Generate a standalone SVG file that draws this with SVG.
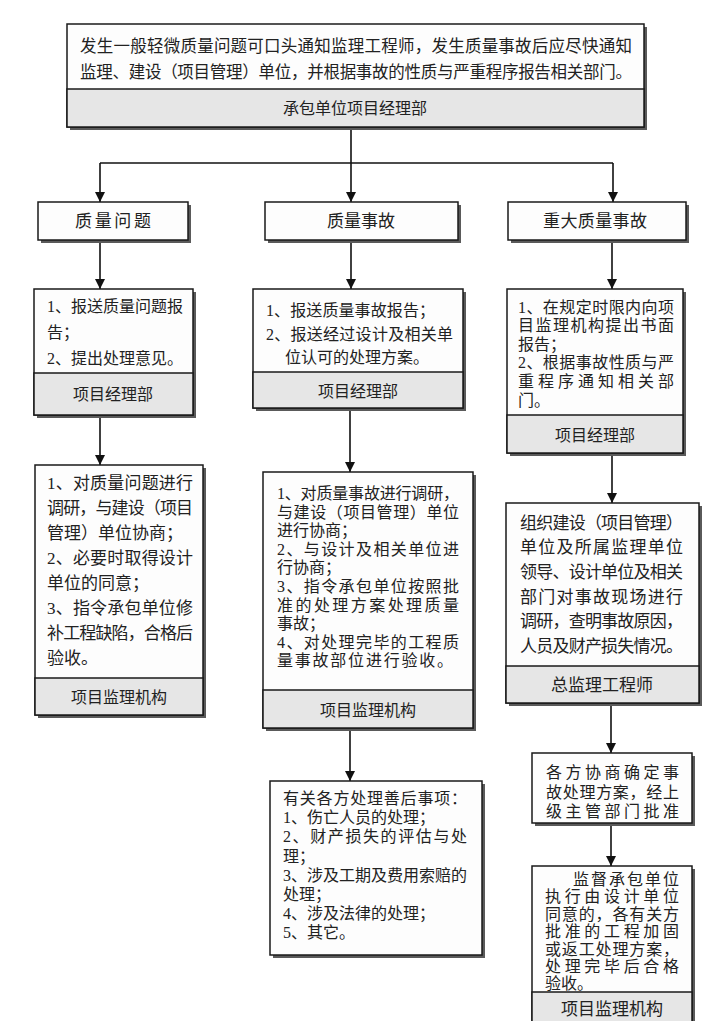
<svg xmlns="http://www.w3.org/2000/svg" width="720" height="1021" viewBox="0 0 720 1021">
<style>
.bg{fill:#ffffff}
.sh{fill:#5a5a5a}
.b{fill:#fdfdfd;stroke:#1a1a1a;stroke-width:1.5}
.band{fill:#e6e6e6;stroke:#1a1a1a;stroke-width:1.5}
.t{font-family:"Liberation Serif","Noto Sans CJK SC",serif;font-size:16px;fill:#222}
.t17{font-size:17px}
.c{text-anchor:middle}
.ln{stroke:#111;stroke-width:1.6;fill:none}
</style>
<defs>
<marker id="ah" viewBox="0 0 10 10" refX="10" refY="5" markerWidth="10" markerHeight="10" markerUnits="userSpaceOnUse" orient="auto">
<path d="M0,0 L10,5 L0,10 z" fill="#111"/>
</marker>
</defs>
<rect class="bg" x="0" y="0" width="720" height="1021"/>

<g id="connectors">
<path class="ln" d="M351,127 V202" marker-end="url(#ah)"/>
<path class="ln" d="M100,163 H613"/>
<path class="ln" d="M100,163 V202" marker-end="url(#ah)"/>
<path class="ln" d="M613,163 V202" marker-end="url(#ah)"/>
<path class="ln" d="M100,240 V289" marker-end="url(#ah)"/>
<path class="ln" d="M351,240 V289" marker-end="url(#ah)"/>
<path class="ln" d="M612,240 V289" marker-end="url(#ah)"/>
<path class="ln" d="M100,415 V465" marker-end="url(#ah)"/>
<path class="ln" d="M350,408 V472" marker-end="url(#ah)"/>
<path class="ln" d="M612,453 V503" marker-end="url(#ah)"/>
<path class="ln" d="M350,728 V781" marker-end="url(#ah)"/>
<path class="ln" d="M611,703 V753" marker-end="url(#ah)"/>
<path class="ln" d="M611,823 V866" marker-end="url(#ah)"/>
</g>

<g id="top">
<rect class="sh" x="70" y="27" width="577" height="103"/>
<rect class="b" x="67" y="24" width="577" height="103"/>
<rect class="band" x="67" y="89" width="577" height="38"/>
<text class="t" x="80" y="52" textLength="552" style="font-size:16.5px">发生一般轻微质量问题可口头通知监理工程师，发生质量事故后应尽快通知</text>
<text class="t" x="80" y="78" textLength="552" style="font-size:16.5px">监理、建设（项目管理）单位，并根据事故的性质与严重程序报告相关部门。</text>
<text class="t c" x="355" y="114">承包单位项目经理部</text>
</g>

<g id="q-problem">
<rect class="sh" x="41" y="205" width="150" height="38"/>
<rect class="b" x="38" y="202" width="150" height="38"/>
<text class="t t17 c" x="113" y="227" textLength="76">质量问题</text>
</g>
<g id="q-accident">
<rect class="sh" x="268" y="205" width="193" height="38"/>
<rect class="b" x="265" y="202" width="193" height="38"/>
<text class="t t17 c" x="361" y="227" textLength="68">质量事故</text>
</g>
<g id="q-major">
<rect class="sh" x="511" y="205" width="178" height="38"/>
<rect class="b" x="508" y="202" width="178" height="38"/>
<text class="t t17 c" x="595" y="227" textLength="104">重大质量事故</text>
</g>

<g id="l3">
<rect class="sh" x="37" y="292" width="159" height="126"/>
<rect class="b" x="34" y="289" width="159" height="126"/>
<rect class="band" x="34" y="373" width="159" height="42"/>
<text class="t" x="47" y="312" textLength="136">1、报送质量问题报</text>
<text class="t" x="47" y="338">告；</text>
<text class="t" x="47" y="364" textLength="136">2、提出处理意见。</text>
<text class="t c" x="113" y="400">项目经理部</text>
</g>
<g id="m3">
<rect class="sh" x="256" y="292" width="210" height="119"/>
<rect class="b" x="253" y="289" width="210" height="119"/>
<rect class="band" x="253" y="372" width="210" height="36"/>
<text class="t" x="266" y="316" textLength="169">1、报送质量事故报告；</text>
<text class="t" x="266" y="340" textLength="187">2、报送经过设计及相关单</text>
<text class="t" x="285" y="363" textLength="144">位认可的处理方案。</text>
<text class="t c" x="358" y="397">项目经理部</text>
</g>
<g id="r3">
<rect class="sh" x="510" y="292" width="176" height="164"/>
<rect class="b" x="507" y="289" width="176" height="164"/>
<rect class="band" x="507" y="415" width="176" height="38"/>
<text class="t" x="518" y="313" textLength="156">1、在规定时限内向项</text>
<text class="t" x="518" y="331" textLength="156">目监理机构提出书面</text>
<text class="t" x="518" y="350">报告；</text>
<text class="t" x="518" y="368" textLength="156">2、根据事故性质与严</text>
<text class="t" x="518" y="387" textLength="156">重程序通知相关部</text>
<text class="t" x="518" y="406">门。</text>
<text class="t c" x="595" y="441">项目经理部</text>
</g>

<g id="l4">
<rect class="sh" x="38" y="468" width="168" height="250"/>
<rect class="b" x="35" y="465" width="168" height="250"/>
<rect class="band" x="35" y="678" width="168" height="37"/>
<text class="t t17" x="47" y="489" textLength="146">1、对质量问题进行</text>
<text class="t t17" x="47" y="514" textLength="146">调研，与建设（项目</text>
<text class="t t17" x="47" y="539">管理）单位协商；</text>
<text class="t t17" x="47" y="564" textLength="146">2、必要时取得设计</text>
<text class="t t17" x="47" y="589">单位的同意；</text>
<text class="t t17" x="47" y="614" textLength="146">3、指令承包单位修</text>
<text class="t t17" x="47" y="639" textLength="146">补工程缺陷，合格后</text>
<text class="t t17" x="47" y="664">验收。</text>
<text class="t c" x="119" y="703">项目监理机构</text>
</g>
<g id="m4">
<rect class="sh" x="266" y="475" width="210" height="256"/>
<rect class="b" x="263" y="472" width="210" height="256"/>
<rect class="band" x="263" y="690" width="210" height="38"/>
<text class="t" x="277" y="499" textLength="182">1、对质量事故进行调研，</text>
<text class="t" x="277" y="517.5" textLength="182">与建设（项目管理）单位</text>
<text class="t" x="277" y="536">进行协商；</text>
<text class="t" x="277" y="554.5" textLength="182">2、与设计及相关单位进</text>
<text class="t" x="277" y="573">行协商；</text>
<text class="t" x="277" y="592" textLength="182">3、指令承包单位按照批</text>
<text class="t" x="277" y="610.5" textLength="182">准的处理方案处理质量</text>
<text class="t" x="277" y="629">事故；</text>
<text class="t" x="277" y="647.5" textLength="182">4、对处理完毕的工程质</text>
<text class="t" x="277" y="666" textLength="176">量事故部位进行验收。</text>
<text class="t c" x="368" y="716">项目监理机构</text>
</g>
<g id="r4">
<rect class="sh" x="509" y="506" width="193" height="200"/>
<rect class="b" x="506" y="503" width="193" height="200"/>
<rect class="band" x="506" y="666" width="193" height="37"/>
<text class="t t17" x="520" y="529" textLength="163">组织建设（项目管理）</text>
<text class="t t17" x="520" y="553" textLength="163">单位及所属监理单位</text>
<text class="t t17" x="520" y="578" textLength="163">领导、设计单位及相关</text>
<text class="t t17" x="520" y="603" textLength="163">部门对事故现场进行</text>
<text class="t t17" x="520" y="627" textLength="163">调研，查明事故原因，</text>
<text class="t t17" x="520" y="652" textLength="163">人员及财产损失情况。</text>
<text class="t t17 c" x="602" y="691">总监理工程师</text>
</g>

<g id="m5">
<rect class="sh" x="273" y="784" width="212" height="174"/>
<rect class="b" x="270" y="781" width="212" height="174"/>
<text class="t" x="283" y="804" textLength="184">有关各方处理善后事项：</text>
<text class="t" x="283" y="823">1、伤亡人员的处理；</text>
<text class="t" x="283" y="842" textLength="184">2、财产损失的评估与处</text>
<text class="t" x="283" y="861.5">理；</text>
<text class="t" x="283" y="881" textLength="184">3、涉及工期及费用索赔的</text>
<text class="t" x="283" y="900">处理；</text>
<text class="t" x="283" y="919">4、涉及法律的处理；</text>
<text class="t" x="283" y="938">5、其它。</text>
</g>
<g id="r5">
<rect class="sh" x="535" y="756" width="160" height="70"/>
<rect class="b" x="532" y="753" width="160" height="70"/>
<text class="t" x="546" y="778" textLength="133">各方协商确定事</text>
<text class="t" x="546" y="798" textLength="133">故处理方案，经上</text>
<text class="t" x="546" y="817" textLength="133">级主管部门批准</text>
</g>
<g id="r6">
<rect class="sh" x="535" y="869" width="160" height="160"/>
<rect class="b" x="532" y="866" width="160" height="160"/>
<rect class="band" x="532" y="992" width="160" height="34"/>
<text class="t" x="573" y="885" textLength="106">监督承包单位</text>
<text class="t" x="545" y="902" textLength="134">执行由设计单位</text>
<text class="t" x="545" y="920" textLength="134">同意的，各有关方</text>
<text class="t" x="545" y="937" textLength="134">批准的工程加固</text>
<text class="t" x="545" y="955" textLength="134">或返工处理方案，</text>
<text class="t" x="545" y="972" textLength="134">处理完毕后合格</text>
<text class="t" x="545" y="989">验收。</text>
<text class="t t17 c" x="612" y="1015">项目监理机构</text>
</g>
</svg>
